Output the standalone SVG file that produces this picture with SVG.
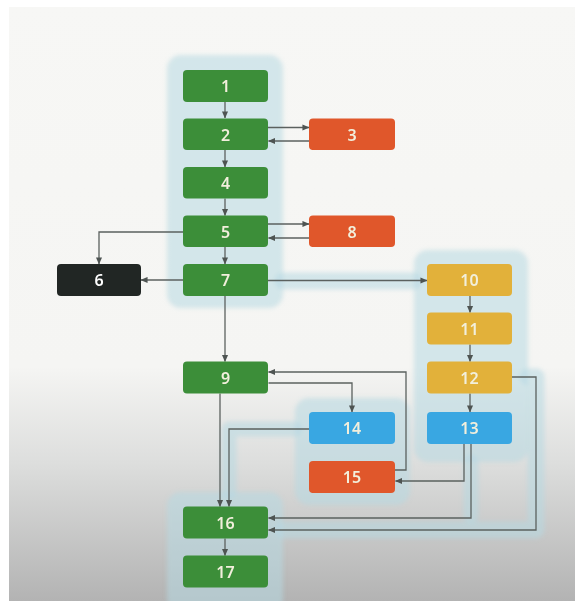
<svg xmlns="http://www.w3.org/2000/svg" width="575" height="601" viewBox="0 0 575 601">
  <defs>
    <linearGradient id="bg" x1="0" y1="0" x2="0" y2="601" gradientUnits="userSpaceOnUse">
      <stop offset="0" stop-color="#f7f7f5"/>
      <stop offset="0.61" stop-color="#f5f5f3"/>
      <stop offset="0.77" stop-color="#dddedd"/>
      <stop offset="1" stop-color="#b3b3b3"/>
    </linearGradient>
    <filter id="soft" x="-10%" y="-10%" width="120%" height="120%">
      <feGaussianBlur stdDeviation="2"/>
    </filter>
    <marker id="arr" viewBox="0 0 8 8" refX="7.5" refY="4" markerWidth="7" markerHeight="7" markerUnits="userSpaceOnUse" orient="auto">
      <path d="M0,0.5 L8,4 L0,7.5 Z" fill="#4e5452"/>
    </marker>
    <style>
      .halo { fill: #b6d9e2; opacity: 0.55; }
      .band { fill: none; stroke: #b6d9e2; stroke-opacity: 0.55; stroke-linejoin: round; stroke-linecap: round; }
      .edge { fill: none; stroke: #5b615f; stroke-width: 1.3; marker-end: url(#arr); }
      .node rect { rx: 4; ry: 4; }
      .node text { font-family: "Noto Sans", "Open Sans", sans-serif; font-weight: 600; font-size: 16px; fill: #f2efdc; text-anchor: middle; dominant-baseline: central; }
      .green rect { fill: #3c8e39; }
      .red rect { fill: #e0572b; }
      .gold rect { fill: #e2b13a; }
      .blue rect { fill: #39a7e2; }
      .dark rect { fill: #212624; }
      .dark text { fill: #ffffff; }
    </style>
  </defs>

  <!-- page background -->
  <rect width="575" height="601" fill="#ffffff"/>
  <rect x="9" y="7" width="566" height="594" fill="url(#bg)"/>

  <!-- highlighted path regions -->
  <g id="highlights" filter="url(#soft)">
    <rect class="halo" x="167" y="55" width="116" height="253" rx="14"/>
    <rect class="halo" x="414" y="250" width="114" height="212" rx="14"/>
    <rect class="halo" x="295" y="398" width="115" height="107" rx="14"/>
    <rect class="halo" x="167" y="492" width="116" height="120" rx="14"/>
    <path class="band" stroke-width="17" d="M283 281 H414"/>
    <path class="band" stroke-width="17" d="M528 377 H536 V530 H283"/>
    <path class="band" stroke-width="15" d="M471 462 V516"/>
    <path class="band" stroke-width="15" d="M295 429 H229 V492"/>
  </g>

  <!-- connectors -->
  <g id="connectors">
    <path class="edge" d="M225 102 V118"/>
    <path class="edge" d="M268 127.5 H309"/>
    <path class="edge" d="M309 141 H268.5"/>
    <path class="edge" d="M225 150 V167"/>
    <path class="edge" d="M225 198.5 V215.5"/>
    <path class="edge" d="M268 224 H309"/>
    <path class="edge" d="M309 238 H268.5"/>
    <path class="edge" d="M183 232 H99 V264"/>
    <path class="edge" d="M225 247 V264"/>
    <path class="edge" d="M183 280 H141"/>
    <path class="edge" d="M268 280.5 H427"/>
    <path class="edge" d="M225 296 V361.5"/>
    <path class="edge" d="M470 296 V312.5"/>
    <path class="edge" d="M470 344.5 V361.5"/>
    <path class="edge" d="M470 393.5 V412"/>
    <path class="edge" d="M268.5 383 H352 V412"/>
    <path class="edge" d="M395 470 H406 V372 H268.5"/>
    <path class="edge" d="M220 393.5 V506.5"/>
    <path class="edge" d="M309 429 H229 V506.5"/>
    <path class="edge" d="M464 444 V481 H395.5"/>
    <path class="edge" d="M471 444 V518 H268.5"/>
    <path class="edge" d="M512 377 H536 V530 H268.5"/>
    <path class="edge" d="M225 538.5 V555.5"/>
  </g>

  <!-- nodes -->
  <g id="n1" class="node green"><rect x="183" y="70" width="85" height="32"/><text x="225.5" y="86">1</text></g>
  <g id="n2" class="node green"><rect x="183" y="118.5" width="85" height="31.5"/><text x="225.5" y="134.5">2</text></g>
  <g id="n3" class="node red"><rect x="309" y="118.5" width="86" height="31.5"/><text x="352" y="134.5">3</text></g>
  <g id="n4" class="node green"><rect x="183" y="167" width="85" height="31.5"/><text x="225.5" y="183">4</text></g>
  <g id="n5" class="node green"><rect x="183" y="215.5" width="85" height="31.5"/><text x="225.5" y="231.5">5</text></g>
  <g id="n8" class="node red"><rect x="309" y="215.5" width="86" height="31.5"/><text x="352" y="231.5">8</text></g>
  <g id="n6" class="node dark"><rect x="57" y="264" width="84" height="32"/><text x="99" y="280">6</text></g>
  <g id="n7" class="node green"><rect x="183" y="264" width="85" height="32"/><text x="225.5" y="280">7</text></g>
  <g id="n10" class="node gold"><rect x="427" y="264" width="85" height="32"/><text x="469.5" y="280">10</text></g>
  <g id="n11" class="node gold"><rect x="427" y="312.5" width="85" height="32"/><text x="469.5" y="328.5">11</text></g>
  <g id="n9" class="node green"><rect x="183" y="361.5" width="85" height="32"/><text x="225.5" y="377.5">9</text></g>
  <g id="n12" class="node gold"><rect x="427" y="361.5" width="85" height="32"/><text x="469.5" y="377.5">12</text></g>
  <g id="n14" class="node blue"><rect x="309" y="412" width="86" height="32"/><text x="352" y="428">14</text></g>
  <g id="n13" class="node blue"><rect x="427" y="412" width="85" height="32"/><text x="469.5" y="428">13</text></g>
  <g id="n15" class="node red"><rect x="309" y="461" width="86" height="32"/><text x="352" y="477">15</text></g>
  <g id="n16" class="node green"><rect x="183" y="506.5" width="85" height="32"/><text x="225.5" y="522.5">16</text></g>
  <g id="n17" class="node green"><rect x="183" y="555.5" width="85" height="32"/><text x="225.5" y="571.5">17</text></g>
</svg>
